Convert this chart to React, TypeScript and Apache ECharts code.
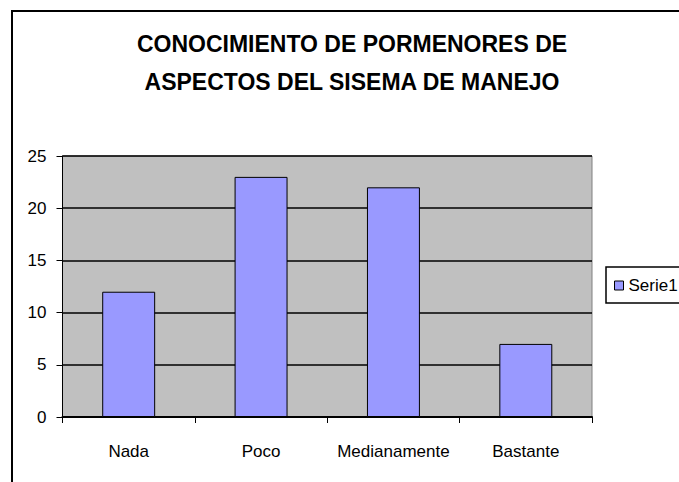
import React, { useEffect, useRef } from "react";
import * as echarts from "echarts";

const titleLines = ["CONOCIMIENTO DE PORMENORES DE", "ASPECTOS DEL SISEMA DE MANEJO"];
const categories = ["Nada", "Poco", "Medianamente", "Bastante"];
const serieName = "Serie1";
const serieValues = [12, 23, 22, 7];
const yMin = 0;
const yMax = 25;
const yInterval = 5;

const FONT = "'Liberation Sans', Arial, Helvetica, sans-serif";

export default function App() {
  const ref = useRef<HTMLDivElement>(null);
  useEffect(() => {
    if (!ref.current) return;
    const chart = echarts.init(ref.current, null, { renderer: "svg" });
    chart.setOption({
      animation: false,
      backgroundColor: "#ffffff",
      textStyle: { fontFamily: FONT },
      graphic: [
        {
          type: "rect",
          shape: { x: 12, y: 11, width: 720, height: 520 },
          style: { fill: "none", stroke: "#000", lineWidth: 2 },
          silent: true,
          z: 100,
        },
        {
          type: "text",
          x: 352,
          y: 44,
          style: {
            text: titleLines[0],
            fill: "#000",
            font: `bold 23px ${FONT}`,
            textAlign: "center",
            textVerticalAlign: "middle",
          },
        },
        {
          type: "text",
          x: 352,
          y: 82,
          style: {
            text: titleLines[1],
            fill: "#000",
            font: `bold 23px ${FONT}`,
            textAlign: "center",
            textVerticalAlign: "middle",
          },
        },
        {
          type: "rect",
          shape: { x: 606, y: 267, width: 120, height: 36 },
          style: { fill: "#fff", stroke: "#000", lineWidth: 1.5 },
          silent: true,
          z: 0,
        },
      ],
      legend: {
        show: true,
        left: 614,
        top: 277,
        padding: 0,
        icon: "rect",
        itemWidth: 9,
        itemHeight: 9,
        itemStyle: { borderColor: "#000", borderWidth: 1 },
        textStyle: { fontSize: 17, lineHeight: 17, color: "#000", fontFamily: FONT },
        data: [serieName],
        z: 10,
      },
      grid: {
        left: 62.5,
        right: 87,
        top: 156,
        bottom: 65,
        show: true,
        backgroundColor: "#C0C0C0",
        borderColor: "#808080",
        borderWidth: 1,
      },
      xAxis: {
        type: "category",
        data: categories,
        axisLine: { show: true, lineStyle: { color: "#000", width: 2 } },
        axisTick: { show: true, length: 6, lineStyle: { color: "#000", width: 1 } },
        axisLabel: { color: "#000", fontSize: 17, margin: 26, interval: 0, fontFamily: FONT },
        splitLine: { show: false },
      },
      yAxis: {
        type: "value",
        min: yMin,
        max: yMax,
        interval: yInterval,
        axisLine: { show: true, lineStyle: { color: "#000", width: 1 } },
        axisTick: { show: true, length: 6, lineStyle: { color: "#000", width: 1 } },
        axisLabel: { color: "#000", fontSize: 17, margin: 16, fontFamily: FONT },
        splitLine: { show: true, lineStyle: { color: "#000", width: 1.5 } },
      },
      series: [
        {
          name: serieName,
          type: "bar",
          data: serieValues,
          barCategoryGap: "60%",
          itemStyle: { color: "#9999FF", borderColor: "#000", borderWidth: 1 },
        },
      ],
    });
    return () => chart.dispose();
  }, []);
  return (
    <div
      ref={ref}
      style={{ position: "absolute", left: 0, top: 0, width: 679, height: 482 }}
    />
  );
}
